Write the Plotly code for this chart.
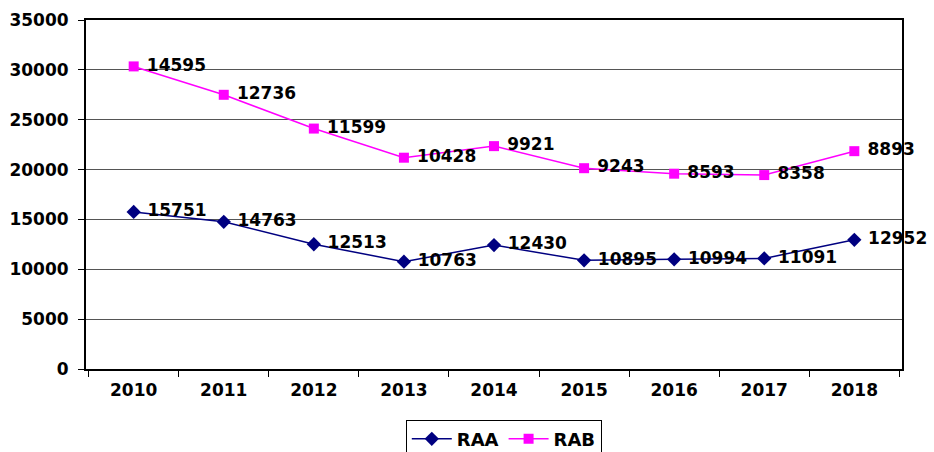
import plotly.graph_objects as go

years = ["2010", "2011", "2012", "2013", "2014", "2015", "2016", "2017", "2018"]
raa = [15751, 14763, 12513, 10763, 12430, 10895, 10994, 11091, 12952]
rab = [14595, 12736, 11599, 10428, 9921, 9243, 8593, 8358, 8893]

font_family = "DejaVu Sans"
pad = "\u00a0"

fig = go.Figure()
fig.add_trace(go.Scatter(
    x=years, y=raa, name="RAA", stackgroup="one", fill="none",
    mode="lines+markers+text",
    line=dict(color="#000080", width=1.5),
    marker=dict(symbol="diamond", size=11, color="#000080"),
    text=[pad + str(v) for v in raa], textposition="middle right",
    textfont=dict(family=font_family, size=17, color="black", weight="bold"),
    cliponaxis=False, hoverinfo="skip",
))
fig.add_trace(go.Scatter(
    x=years, y=rab, name="RAB", stackgroup="one", fill="none",
    mode="lines+markers+text",
    line=dict(color="#FF00FF", width=1.5),
    marker=dict(symbol="square", size=10, color="#FF00FF"),
    text=[pad + str(v) for v in rab], textposition="middle right",
    textfont=dict(family=font_family, size=17, color="black", weight="bold"),
    cliponaxis=False, hoverinfo="skip",
))

fig.update_layout(
    width=934, height=452,
    margin=dict(l=86, r=32, t=20, b=83, autoexpand=False),
    paper_bgcolor="white", plot_bgcolor="white",
    font=dict(family=font_family, size=17, color="black"),
    showlegend=True,
    legend=dict(
        orientation="h", x=0.512, xanchor="center", y=-0.145, yanchor="top",
        bordercolor="black", borderwidth=1, bgcolor="white",
        font=dict(family=font_family, size=18, color="black", weight="bold"),
        itemwidth=40, tracegroupgap=0,
    ),
)
fig.update_xaxes(
    type="category", showline=True, linecolor="black", linewidth=2, mirror=True,
    ticks="outside", tickson="boundaries", ticklen=6, tickcolor="black", tickwidth=1,
    showgrid=False, automargin=False,
    tickfont=dict(family=font_family, size=17, color="black", weight="bold"),
    ticklabelstandoff=5,
)
fig.update_yaxes(
    range=[0, 35000], dtick=5000, tickformat="d",
    showline=True, linecolor="black", linewidth=2, mirror=True,
    ticks="outside", ticklen=6, tickcolor="black", tickwidth=1,
    showgrid=True, gridcolor="#555555", gridwidth=1, zeroline=False,
    automargin=False,
    tickfont=dict(family=font_family, size=17, color="black", weight="bold"),
    ticklabelstandoff=6,
)

fig.write_html("out.html", config={"displayModeBar": False},
               post_script="document.body.style.margin='0';")
